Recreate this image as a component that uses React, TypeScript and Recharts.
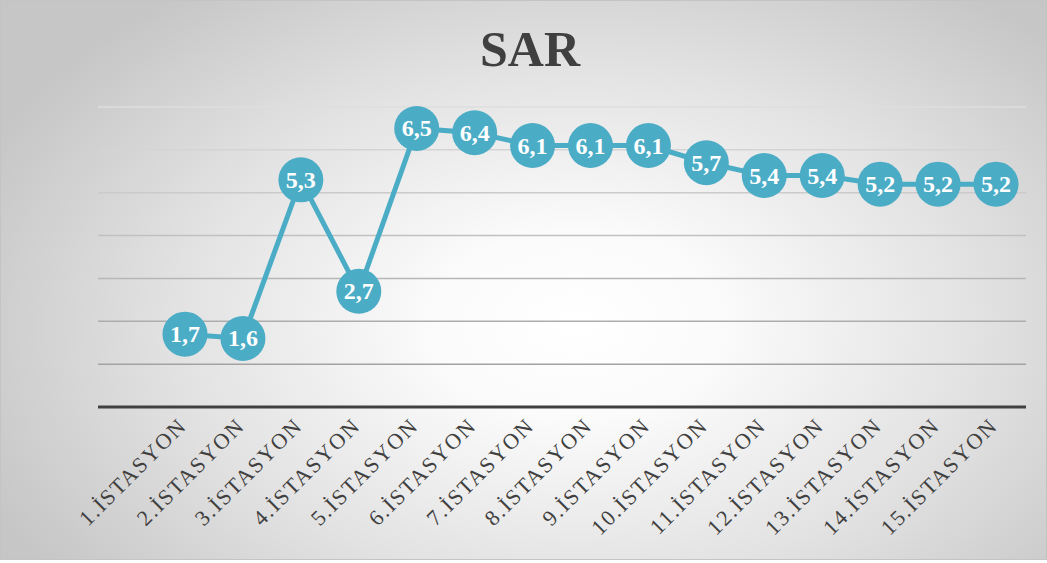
import React from 'react';
import {
  LineChart, Line, XAxis, YAxis, CartesianGrid, LabelList
} from 'recharts';

// station names and SAR values
const stations = [
  '1.İSTASYON', '2.İSTASYON', '3.İSTASYON', '4.İSTASYON', '5.İSTASYON',
  '6.İSTASYON', '7.İSTASYON', '8.İSTASYON', '9.İSTASYON', '10.İSTASYON',
  '11.İSTASYON', '12.İSTASYON', '13.İSTASYON', '14.İSTASYON', '15.İSTASYON',
];
const sarValues = [1.7, 1.6, 5.3, 2.7, 6.5, 6.4, 6.1, 6.1, 6.1, 5.7, 5.4, 5.4, 5.2, 5.2, 5.2];
const yTicks = [0, 1, 2, 3, 4, 5, 6, 7];

const data = stations.map((name, i) => ({ name, sar: sarValues[i] }));

const SERIES = '#4bacc6';
const SERIF = '"Liberation Serif", "Times New Roman", serif';
const fmt = (v: number) => v.toFixed(1).replace('.', ',');

const StationTick = (props: any) => {
  const { x, y, payload } = props;
  return (
    <g transform={`translate(${x + 3},${y + 12})`}>
      <text
        x={0}
        y={0}
        textAnchor="end"
        transform="rotate(-45)"
        fill="#404040"
        fontSize={22}
        letterSpacing={1.8}
        fontFamily={SERIF}
      >
        {payload.value}
      </text>
    </g>
  );
};

const Bubble = (props: any) => {
  const { cx, cy } = props;
  if (cx == null || cy == null) return null;
  return <circle cx={cx} cy={cy} r={22.5} fill={SERIES} />;
};

const BubbleLabel = (props: any) => {
  const { x, y, value } = props;
  return (
    <text
      x={x}
      y={y}
      dy={8}
      textAnchor="middle"
      fill="#ffffff"
      fontSize={24}
      fontWeight="bold"
      fontFamily={SERIF}
    >
      {fmt(value)}
    </text>
  );
};

export default function App() {
  return (
    <div
      style={{
        position: 'absolute',
        left: 0,
        top: 0,
        width: 1045,
        height: 558,
        border: '1px solid #c4c4c4',
        background:
          'radial-gradient(ellipse 62% 75% at 55% 58%, #ffffff 0%, #fbfbfb 22%, #e2e2e2 62%, #c6c6c6 100%)',
        overflow: 'hidden',
      }}
    >
      <div
        style={{
          position: 'absolute',
          left: 0,
          width: 1058,
          top: 20,
          textAlign: 'center',
          fontFamily: SERIF,
          fontWeight: 'bold',
          fontSize: 50,
          lineHeight: '56px',
          color: '#404040',
        }}
      >
        SAR
      </div>
      <LineChart
        width={1045}
        height={558}
        data={data}
        margin={{ top: 106, right: 20, left: 97, bottom: 0 }}
        style={{ position: 'absolute', left: 0, top: 0 }}
      >
        <defs>
          <linearGradient id="gridFade" gradientUnits="userSpaceOnUse" x1="0" y1="106" x2="0" y2="401">
            <stop offset="0%" stopColor="#dedede" />
            <stop offset="100%" stopColor="#9a9a9a" />
          </linearGradient>
        </defs>
        <CartesianGrid vertical={false} stroke="url(#gridFade)" strokeWidth={1.5} />
        <XAxis
          dataKey="name"
          scale="point"
          padding={{ left: 87, right: 30 }}
          interval={0}
          height={152}
          tick={<StationTick />}
          tickLine={false}
          axisLine={{ stroke: '#404040', strokeWidth: 3 }}
        />
        <YAxis hide domain={[0, 7]} ticks={yTicks} />
        <Line
          type="linear"
          dataKey="sar"
          stroke={SERIES}
          strokeWidth={5}
          dot={<Bubble />}
          activeDot={false}
          isAnimationActive={false}
        >
          <LabelList dataKey="sar" content={<BubbleLabel />} />
        </Line>
      </LineChart>
    </div>
  );
}
